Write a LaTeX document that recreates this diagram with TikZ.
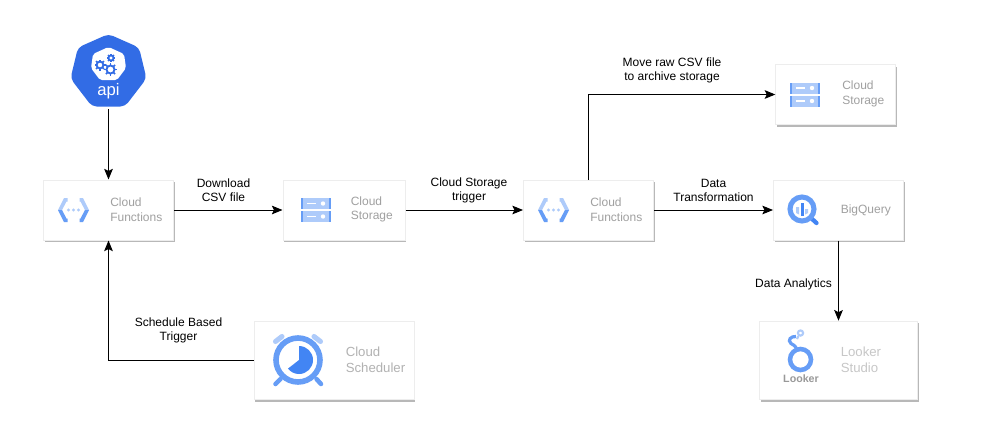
\documentclass[tikz,border=0pt]{standalone}
\usepackage{fontspec}
\setmainfont{Liberation Sans}
\usetikzlibrary{arrows.meta,shadows,calc}
\definecolor{gA}{HTML}{4285F4}
\definecolor{gB}{HTML}{669DF6}
\definecolor{gC}{HTML}{AECBFA}
\definecolor{apiblue}{HTML}{326CE5}
\definecolor{cardtxt}{HTML}{A0A0A0}
\tikzset{
  card/.style={draw=black!7,line width=0.75pt,fill=white,inner sep=0pt,
    general shadow={shadow xshift=1pt,shadow yshift=-1.5pt,fill=black!28}},
  cardtext/.style={anchor=west,align=left,text=cardtxt,inner sep=0pt,font=\fontsize{9}{11}\selectfont},
  bigtext/.style={cardtext,text=black!30,font=\fontsize{9.9}{12}\selectfont},
  edgelabel/.style={align=center,inner sep=0pt,text=black,font=\fontsize{9}{10.6}\selectfont},
  flow/.style={draw=black,line width=0.75pt,-{Stealth[length=8pt,width=6.5pt,inset=1.6pt]}},
}
\newcommand{\cficon}[2]{\begin{scope}[shift={(#1,#2)},line join=miter]
  \fill[gC] (-6,-12)--(-9.5,-12)--(-15.5,0)--(-11.5,0)--(-7,-8.5)--(-6,-8.5)--cycle;
  \fill[gB] (-15.5,0)--(-9.5,12)--(-6,12)--(-6,8.5)--(-7,8.5)--(-11.5,0)--cycle;
  \fill[gC] (6,-12)--(9.5,-12)--(15.5,0)--(11.5,0)--(7,-8.5)--(6,-8.5)--cycle;
  \fill[gB] (15.5,0)--(11.5,0)--(7,8.5)--(6,8.5)--(6,12)--(9.5,12)--cycle;
  \foreach \q in {-5,0,5}{\fill[gC] (\q,0) circle[radius=1.6];}
\end{scope}}
\newcommand{\csrow}[2]{\begin{scope}[shift={(#1,#2)}]
  \fill[gC] (-15,-5.5) rectangle (15,5.5);
  \fill[gB] (-15,-5.5) rectangle (-13,5.5);
  \fill[gB] (13,-5.5) rectangle (15,5.5);
  \fill[white] (-9,-0.8) rectangle (0,0.8);
  \fill[white] (7,0) circle[radius=2.2];
\end{scope}}
\newcommand{\csicon}[2]{\csrow{#1}{#2-6.5}\csrow{#1}{#2+6.5}}
\newcommand{\gearicon}[3]{\begin{scope}[shift={(#1,#2)}]
  \foreach \a in {0,45,...,315}{\draw[apiblue,line width=1.3pt] (\a:#3*0.6)--(\a:#3);}
  \draw[apiblue,line width=1.4pt,fill=white] (0,0) circle[radius=#3*0.62];
\end{scope}}
\begin{document}
\begin{tikzpicture}[x=0.75pt,y=-0.75pt]
\useasboundingbox (0,0) rectangle (987,447);
\fill[white] (0,0) rectangle (987,447);
% api
\fill[apiblue,rounded corners=3.5pt] (108.5,34)--(139,47.5)--(146.5,78.5)--(125,106.5)--(92,106.5)--(70.5,78.5)--(78,47.5)--cycle;
\fill[white,rounded corners=1.5pt] (108.5,47)--(124,54)--(126,68)--(117,80)--(100,80)--(91,68)--(93,54)--cycle;
\gearicon{100}{65}{5.5}
\gearicon{111}{58}{4.2}
\gearicon{110.5}{69.5}{6.5}
\node[text=white,inner sep=0pt,font=\fontsize{12.5}{14}\selectfont] (api) at (108.5,91) {api};
\coordinate (apibot) at (108.5,109);
% cards
\node[card,minimum width=97.5pt,minimum height=45pt] (cf1) at (108.5,210) {};
\node[card,minimum width=91.5pt,minimum height=45pt] (cs1) at (344,210) {};
\node[card,minimum width=97.5pt,minimum height=45pt] (cf2) at (588.5,210) {};
\node[card,minimum width=97.5pt,minimum height=45pt] (bq) at (838.5,210) {};
\node[card,minimum width=89.5pt,minimum height=45pt] (cs2) at (835.5,94.5) {};
\node[card,minimum width=120pt,minimum height=59pt] (sch) at (334,360.5) {};
\node[card,minimum width=119pt,minimum height=59pt] (lk) at (838.5,360.5) {};
% card text
\node[cardtext] (t1) at (110,209.5) {Cloud\\Functions};
\node[cardtext] (t2) at (350.5,209.5) {Cloud\\Storage};
\node[cardtext] (t3) at (590,209.5) {Cloud\\Functions};
\node[cardtext] (t4) at (840.5,210) {BigQuery};
\node[cardtext] (t5) at (842,94) {Cloud\\Storage};
\node[bigtext] (t6) at (345.5,360) {Cloud\\Scheduler};
\node[bigtext,text=black!22] (t7) at (840.5,360) {Looker\\Studio};
% icons
\cficon{73.5}{210}
\cficon{553.5}{210}
\csicon{316}{210}
\csicon{805}{94.5}
% bigquery
\draw[gA,line width=3.2pt,line cap=round] (811,218)--(816.5,223);
\draw[gB,line width=3.8pt] (802,209) circle[radius=12];
\fill[gC] (796,207)--(799,207)--(799,214.5)--(796,213)--cycle;
\fill[gA] (800.5,203)--(803.5,203)--(803.5,215.5)--(800.5,215.5)--cycle;
\fill[gC] (805,209)--(808,209)--(808,213)--(805,214.5)--cycle;
% scheduler
\draw[gC,line width=3.8pt,line cap=round] (275.5,341.5)--(282,336.5);
\draw[gC,line width=3.8pt,line cap=round] (320.5,341.5)--(314,336.5);
\draw[gB,line width=3.4pt,line cap=round] (275.5,384)--(280.5,379);
\draw[gB,line width=3.4pt,line cap=round] (316.5,379)--(321,384);
\draw[gB,line width=4.2pt] (298,360) circle[radius=22];
\fill[gA] (299,360)--++(-90:14)arc[start angle=-90,end angle=142,radius=14]--cycle;
% looker
\draw[gB,line width=3.4pt] (800.5,359.5) circle[radius=10.5];
\draw[gB,line width=2.4pt] (797,349.5) .. controls (795,345) and (793,345) .. (791,343.5) .. controls (787,340) and (791,336) .. (796,336.5);
\draw[gC,line width=1.6pt] (800.5,333) circle[radius=2.6];
\draw[gC,line width=1.6pt] (797,339)--(798.5,336);
\node[text=black!40,inner sep=0pt,font=\fontsize{8}{9}\selectfont\bfseries] (lklogo) at (801,379) {Looker};
% connectors
\draw[flow] (apibot)--(cf1.north);
\draw[flow] (cf1.east)--(cs1.west);
\draw[flow] (cs1.east)--(cf2.west);
\draw[flow] (cf2.east)--(bq.west);
\draw[flow] (cf2.north)|-(cs2.west);
\draw[flow] (bq.south)--(lk.north);
\draw[flow] (sch.west)-|(cf1.south);
% labels
\node[edgelabel] (l1) at (223.5,190) {Download\\CSV file};
\node[edgelabel] (l2) at (469,190) {Cloud Storage\\trigger};
\node[edgelabel] (l3) at (672,70) {Move raw CSV file\\to archive storage};
\node[edgelabel] (l4) at (713.5,190) {Data\\Transformation};
\node[edgelabel] (l5) at (793.5,284) {Data Analytics};
\node[edgelabel] (l6) at (178.5,330) {Schedule Based\\Trigger};
\end{tikzpicture}
\end{document}
